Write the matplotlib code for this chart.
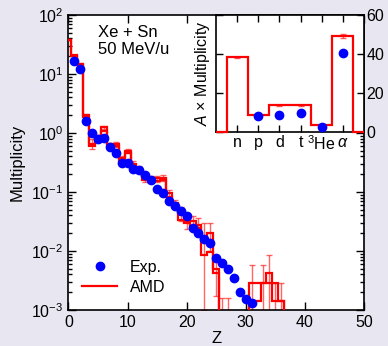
import numpy as np
import matplotlib.pyplot as plt

plt.rcParams['font.family'] = ['Liberation Sans', 'DejaVu Sans']
plt.rcParams['mathtext.fontset'] = 'custom'
plt.rcParams['mathtext.rm'] = 'Liberation Sans'
plt.rcParams['mathtext.it'] = 'Liberation Sans:italic'
plt.rcParams['font.size'] = 11

# Exp. data (Z = 1..31)
exp_z = np.arange(1, 32)
exp_mult = [16.8, 12.0, 1.6, 1.0, 0.78, 0.83, 0.59, 0.45, 0.31, 0.31,
            0.25, 0.236, 0.195, 0.16, 0.112, 0.095, 0.070, 0.059, 0.048, 0.039,
            0.025, 0.0205, 0.0158, 0.0135, 0.0075, 0.0062, 0.005, 0.0035, 0.0020, 0.00155,
            0.0013]

# AMD histogram (Z = 0..37)
amd_z = np.arange(0, 38)
amd = [38, 21, 15, 2.0, 0.66, 0.88, 1.25, 0.64, 0.64, 0.37,
       0.49, 0.30, 0.25, 0.18, 0.17, 0.17, 0.175, 0.095, 0.064, 0.044,
       0.032, 0.032, 0.028, 0.0155, 0.020, 0.005, 0.0008, 0.0008, 0, 0,
       0, 0.0029, 0.0029, 0.0029, 0.0043, 0.00143, 0.00143, 0]
amd_b = [38, 20, 14.3, 1.85, 0.61, 0.80, 1.1, 0.60, 0.60, 0.34,
         0.45, 0.27, 0.22, 0.16, 0.155, 0.155, 0.16, 0.083, 0.056, 0.033,
         0.030, 0.027, 0.025, 0.0085, 0.0095, 0.0042, 0, 0, 0, 0,
         0, 0.00143, 0.00143, 0.0029, 0.0029, 0.0029, 0.00143, 0]
amd_err = [0.6, 0.4, 0.3, 0.12, 0.12, 0.06, 0.08, 0.05, 0.06, 0.04,
           0.04, 0.03, 0.025, 0.03, 0.02, 0.02, 0.02, 0.012, 0.01, 0.012,
           0.008, 0.007, 0.008, 0.0145, 0.01, 0.0033, 0.0008, 0.0008, 0, 0,
           0, 0.0029, 0, 0.0029, 0.0043, 0.00143, 0.00143, 0]

# inset: A x multiplicity of light particles
particles = ['n', 'p', 'd', 't', '$^3$He', r'$\alpha$']
inset_amd = [38.3, 8.6, 13.7, 13.6, 3.6, 49.2]
inset_amd_err = [0.4, 0.3, 0.4, 0.4, 0.3, 1.0]
inset_exp = [np.nan, 8.3, 8.5, 9.8, 2.5, 40.3]

red = '#ff0000'
blue = '#0000ff'

fig = plt.figure(figsize=(3.88, 3.46), dpi=100, facecolor='#e8e6f0')
ax = fig.add_axes([0.1765, 0.104, 0.7615, 0.8526])
ax.set_yscale('log', nonpositive='clip')

edges = np.arange(-0.5, len(amd_z))
ax.stairs(amd, edges, color=red, lw=1.6, zorder=3)
ax.stairs(amd_b, edges, color=red, lw=1.6, zorder=3)
m = np.array(amd_err) > 0
ax.errorbar(amd_z[m], np.array(amd)[m], yerr=np.array(amd_err)[m], fmt='none',
            ecolor=red, alpha=0.6, elinewidth=1, capsize=2.5, zorder=2)
ax.plot(exp_z, exp_mult, 'o', color=blue, ms=6, zorder=4, label='Exp.')
ax.plot([], [], color=red, lw=1.6, label='AMD')

ax.set_xlim(0, 50)
ax.set_ylim(1e-3, 1e2)
ax.set_xticks(np.arange(0, 51, 10))
ax.set_xlabel('Z', labelpad=1, fontsize=12)
ax.set_ylabel('Multiplicity', fontsize=12, labelpad=5)
ax.tick_params(which='both', direction='in', top=True, right=True, width=1)
ax.tick_params(which='major', length=6, labelsize=11.5)
ax.tick_params(which='minor', length=3)
for s in ax.spines.values():
    s.set_linewidth(1.2)

ax.text(0.099, 0.967, 'Xe + Sn\n50 MeV/u', transform=ax.transAxes,
        ha='left', va='top', fontsize=12, linespacing=1.2)
ax.legend(loc='lower left', bbox_to_anchor=(0.025, 0.03), frameon=False,
          handlelength=2.2, handletextpad=0.8, borderaxespad=0,
          labelspacing=0.3, numpoints=1, fontsize=11.5)

# inset
axi = fig.add_axes([0.5567, 0.6185, 0.3813, 0.3381])
pos = np.arange(1, len(particles) + 1)
iedges = np.concatenate(([0], pos - 0.5, [pos[-1] + 0.5, 7]))
axi.stairs(np.concatenate(([0], inset_amd, [0])), iedges, color=red, lw=1.6,
           clip_on=False, zorder=3)
axi.errorbar(pos, inset_amd, yerr=inset_amd_err, fmt='none', ecolor=red,
             alpha=0.6, elinewidth=1, capsize=2.5, zorder=2)
axi.plot(pos, inset_exp, 'o', color=blue, ms=6, zorder=4)
axi.set_xlim(0, 7)
axi.set_ylim(0, 60)
axi.set_xticks(pos)
axi.set_xticklabels(particles)
axi.set_yticks([0, 20, 40, 60])
axi.yaxis.tick_right()
axi.tick_params(which='both', direction='in', top=True, left=True, right=True,
                length=5, width=1, pad=2, labelsize=11.5)
axi.set_ylabel(r'$A$ × Multiplicity', labelpad=3, fontsize=11.5)
axi.yaxis.set_label_position('left')
for s in axi.spines.values():
    s.set_linewidth(1.2)

fig.savefig('out.png', dpi=100, facecolor=fig.get_facecolor())
